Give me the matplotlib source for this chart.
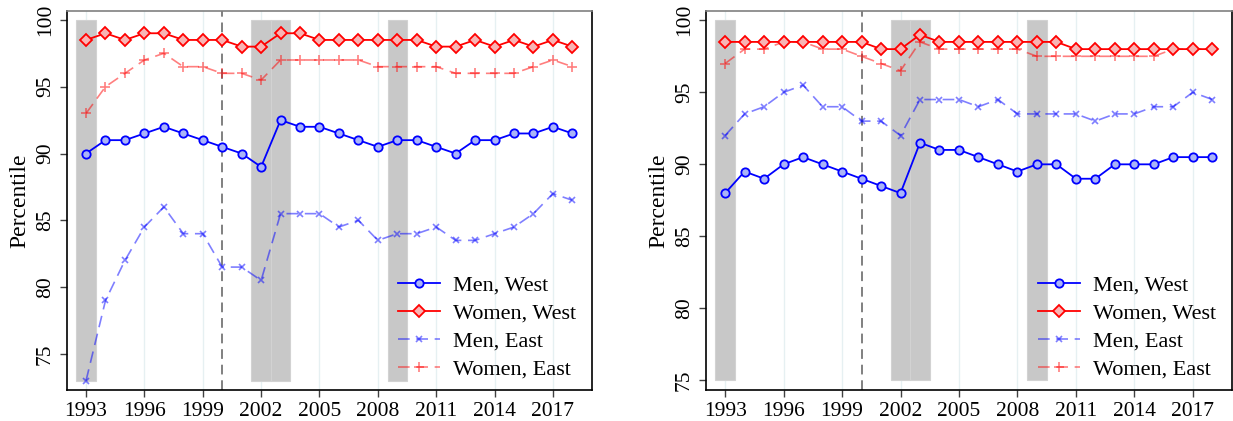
import matplotlib
matplotlib.use("Agg")
import matplotlib.pyplot as plt

years = list(range(1993, 2019))

# Left panel
L_men_west = [90, 91, 91, 91.5, 92, 91.5, 91, 90.5, 90, 89, 92.5, 92, 92, 91.5, 91, 90.5, 91, 91, 90.5, 90, 91, 91, 91.5, 91.5, 92, 91.5]
L_women_west = [98.5, 99, 98.5, 99, 99, 98.5, 98.5, 98.5, 98, 98, 99, 99, 98.5, 98.5, 98.5, 98.5, 98.5, 98.5, 98, 98, 98.5, 98, 98.5, 98, 98.5, 98]
L_men_east = [73, 79, 82, 84.5, 86, 84, 84, 81.5, 81.5, 80.5, 85.5, 85.5, 85.5, 84.5, 85, 83.5, 84, 84, 84.5, 83.5, 83.5, 84, 84.5, 85.5, 87, 86.5]
L_women_east = [93, 95, 96, 97, 97.5, 96.5, 96.5, 96, 96, 95.5, 97, 97, 97, 97, 97, 96.5, 96.5, 96.5, 96.5, 96, 96, 96, 96, 96.5, 97, 96.5]

# Right panel
R_men_west = [88, 89.5, 89, 90, 90.5, 90, 89.5, 89, 88.5, 88, 91.5, 91, 91, 90.5, 90, 89.5, 90, 90, 89, 89, 90, 90, 90, 90.5, 90.5, 90.5]
R_women_west = [98.5, 98.5, 98.5, 98.5, 98.5, 98.5, 98.5, 98.5, 98, 98, 99, 98.5, 98.5, 98.5, 98.5, 98.5, 98.5, 98.5, 98, 98, 98, 98, 98, 98, 98, 98]
R_men_east = [92, 93.5, 94, 95, 95.5, 94, 94, 93, 93, 92, 94.5, 94.5, 94.5, 94, 94.5, 93.5, 93.5, 93.5, 93.5, 93, 93.5, 93.5, 94, 94, 95, 94.5]
R_women_east = [97, 98, 98, 98.5, 98.5, 98, 98, 97.5, 97, 96.5, 98.5, 98, 98, 98, 98, 98, 97.5, 97.5, 97.5, 97.5, 97.5, 97.5, 97.5, 98, 98, 98]

# Shaded periods (start, end)
shade_periods = [(1992.5, 1993.5), (2001.5, 2002.5), (2002.5, 2003.5), (2008.5, 2009.5)]
vline_year = 2000
xticks = [1993, 1996, 1999, 2002, 2005, 2008, 2011, 2014, 2017]
yticks = [75, 80, 85, 90, 95, 100]
labels = ["Men, West", "Women, West", "Men, East", "Women, East"]

plt.rcParams['font.family'] = ['Liberation Serif', 'DejaVu Serif']

fig = plt.figure(figsize=(12.33, 4.21), dpi=100)
ax1 = fig.add_axes([0.054, 0.0736, 0.426, 0.9004])
ax2 = fig.add_axes([0.5723, 0.0736, 0.4267, 0.9004])


def draw(ax, mw, ww, me, we, shade_bottom, ylim):
    for (a, b) in shade_periods:
        ax.bar((a + b) / 2, 100 - shade_bottom, width=b - a, bottom=shade_bottom,
               color='#c8c8c8', edgecolor='#d2d2d2', linewidth=0.8, zorder=1)
    ax.axvline(vline_year, color='#808080', linestyle=(0, (5, 3)), linewidth=1.4, zorder=2)
    for x in xticks:
        ax.axvline(x, color='#e6f0f2', linewidth=1.0, zorder=0)
    ax.plot(years, mw, color='#0000ff', linewidth=1.3, marker='o', markersize=6,
            markerfacecolor='#aab4f8', markeredgecolor='#0000ff', markeredgewidth=1.3,
            label=labels[0], zorder=5)
    ax.plot(years, ww, color='#ff0000', linewidth=1.3, marker='D', markersize=6,
            markerfacecolor='#f8b4b4', markeredgecolor='#ff0000', markeredgewidth=1.3,
            label=labels[1], zorder=5)
    ax.plot(years, me, color='#0000ff', alpha=0.5, linewidth=1.2, linestyle=(0, (7, 4)),
            marker='x', markersize=4.5, markeredgewidth=1.2, label=labels[2], zorder=4)
    ax.plot(years, we, color='#ff0000', alpha=0.5, linewidth=1.2, linestyle=(0, (7, 4)),
            marker='+', markersize=6.5, markeredgewidth=1.2, label=labels[3], zorder=4)
    ax.set_xlim(1992, 2019)
    ax.set_ylim(*ylim)
    ax.set_xticks(xticks)
    ax.set_yticks(yticks)
    ax.tick_params(axis='both', labelsize=15.5, direction='out', length=5, width=1,
                   color='#404040')
    for lbl in ax.get_yticklabels():
        lbl.set_rotation(90)
        lbl.set_va('center')
    ax.set_ylabel("Percentile", fontsize=17, labelpad=4)
    for s in ['left', 'bottom', 'right']:
        ax.spines[s].set_color('black')
        ax.spines[s].set_linewidth(1.2)
    ax.spines['top'].set_color('#808080')
    ax.spines['top'].set_linewidth(1.2)
    ax.legend(loc='lower right', bbox_to_anchor=(0.99, 0.0), frameon=False, fontsize=16,
              handlelength=1.9, handletextpad=0.6, labelspacing=0.34, borderaxespad=0.05)


draw(ax1, L_men_west, L_women_west, L_men_east, L_women_east, 73, (72.3, 100.67))
draw(ax2, R_men_west, R_women_west, R_men_east, R_women_east, 75, (74.33, 100.65))

fig.savefig("out.png", dpi=100)
